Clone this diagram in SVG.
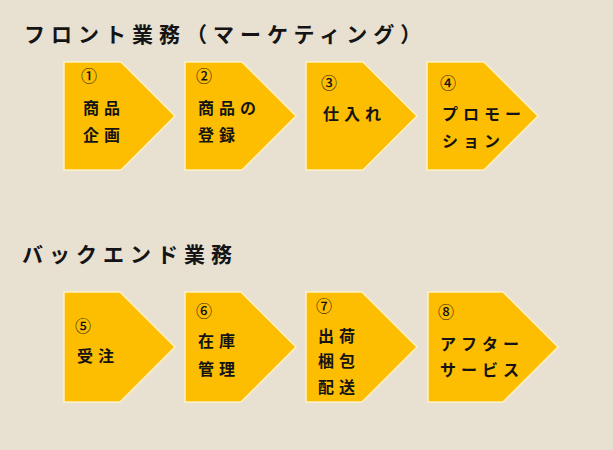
<svg xmlns="http://www.w3.org/2000/svg" width="613" height="450" viewBox="0 0 613 450">
<style>
.bg{fill:#E8E0D1}
.box{fill:#FDBD00;stroke:#FFF2C4;stroke-width:1.5;stroke-linejoin:miter}
.title{font-family:"Noto Sans CJK JP","Noto Sans",sans-serif;font-size:21px;font-weight:700;fill:#141414;letter-spacing:6px}
.t{font-family:"Noto Sans CJK JP","Noto Sans",sans-serif;font-size:16px;font-weight:700;fill:#141414;letter-spacing:5px}
.n{font-family:"Noto Sans CJK JP","Noto Sans",sans-serif;font-size:16px;font-weight:500;fill:#141414}
</style>
<rect class="bg" x="0" y="0" width="613" height="450"/>
<g id="title-front"><text class="title" x="24" y="42">フロント業務（マーケティング）</text></g>
<g id="title-back"><text class="title" x="22" y="262">バックエンド業務</text></g>
<g id="connectors"></g>
<g id="n1">
<polygon class="box" points="64,62 121,62 175,116 121,170 64,170"/>
<text class="n" x="81" y="82">①</text>
<text class="t" x="83" y="114">商品</text>
<text class="t" x="83" y="141">企画</text>
</g>
<g id="n2">
<polygon class="box" points="185,62 242,62 296,116 242,170 185,170"/>
<text class="n" x="196" y="82">②</text>
<text class="t" x="198" y="114">商品の</text>
<text class="t" x="198" y="141">登録</text>
</g>
<g id="n3">
<polygon class="box" points="306,62 363,62 417,116 363,170 306,170"/>
<text class="n" x="321" y="89">③</text>
<text class="t" x="323" y="120">仕入れ</text>
</g>
<g id="n4">
<polygon class="box" points="427,62 484,62 538,116 484,170 427,170"/>
<text class="n" x="440" y="89">④</text>
<text class="t" x="442" y="120">プロモー</text>
<text class="t" x="442" y="147">ション</text>
</g>
<g id="n5">
<polygon class="box" points="64,292 120,292 175,347 120,402 64,402"/>
<text class="n" x="75" y="332">⑤</text>
<text class="t" x="77" y="362">受注</text>
</g>
<g id="n6">
<polygon class="box" points="185,292 241,292 296,347 241,402 185,402"/>
<text class="n" x="196" y="317">⑥</text>
<text class="t" x="198" y="347">在庫</text>
<text class="t" x="198" y="375">管理</text>
</g>
<g id="n7">
<polygon class="box" points="306,292 362,292 417,347 362,402 306,402"/>
<text class="n" x="316" y="312">⑦</text>
<text class="t" x="318" y="342">出荷</text>
<text class="t" x="318" y="367">梱包</text>
<text class="t" x="318" y="393">配送</text>
</g>
<g id="n8">
<polygon class="box" points="428,292 503,292 558,347 503,402 428,402"/>
<text class="n" x="438" y="318">⑧</text>
<text class="t" x="440" y="350">アフター</text>
<text class="t" x="440" y="376">サービス</text>
</g>
</svg>
